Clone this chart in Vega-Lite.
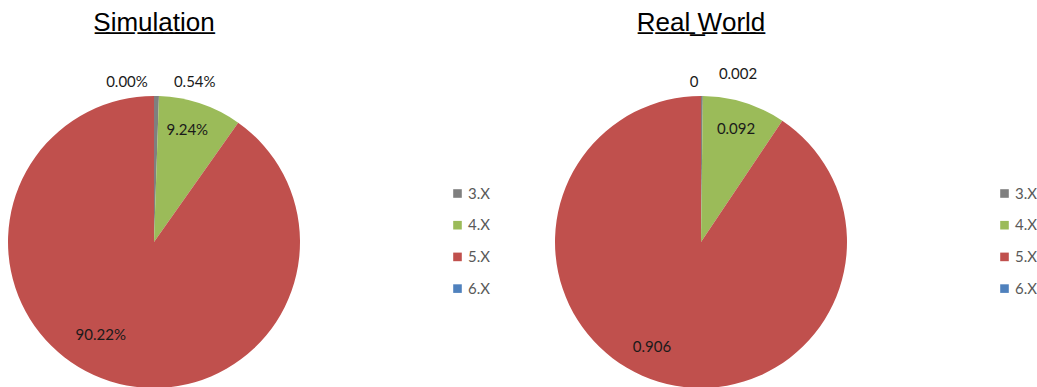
{
  "$schema": "https://vega.github.io/schema/vega-lite/v6.json",
  "padding": {"left": 8, "top": 10, "right": 0, "bottom": 0},
  "background": "white",
  "config": {
    "view": {"stroke": null},
    "title": {"font": "Liberation Sans", "fontSize": 26, "fontWeight": "normal", "color": "#000000", "anchor": "middle"},
    "text": {"font": "Lato", "fontSize": 15, "color": "#1a1a1a", "align": "center", "baseline": "middle"},
    "legend": {"orient": "none", "legendX": 442, "legendY": 90, "padding": 0, "symbolType": "square", "symbolSize": 74, "symbolStrokeWidth": 0, "labelFont": "Lato", "labelFontSize": 15, "labelColor": "#595959", "labelOffset": 3, "rowPadding": 15.7, "title": null}
  },
  "datasets": {
    "sim": [
      {"version": "3.X", "v": 0.0054},
      {"version": "4.X", "v": 0.0924},
      {"version": "5.X", "v": 0.9022},
      {"version": "6.X", "v": 0.0}
    ],
    "real": [
      {"version": "3.X", "v": 0.002},
      {"version": "4.X", "v": 0.092},
      {"version": "5.X", "v": 0.906},
      {"version": "6.X", "v": 0.0}
    ]
  },
  "hconcat": [
    {
      "title": {"text": "S̲i̲m̲u̲l̲a̲t̲i̲o̲n̲", "offset": 39},
      "width": 292,
      "height": 292,
      "data": {"name": "sim"},
      "encoding": {
        "theta": {"field": "v", "type": "quantitative", "stack": true},
        "order": {"field": "version", "type": "ordinal"}
      },
      "layer": [
        {
          "mark": {"type": "arc"},
          "encoding": {
            "color": {"field": "version", "type": "nominal", "scale": {"domain": ["3.X", "4.X", "5.X", "6.X"], "range": ["#7f7f7f", "#9bbb59", "#c0504d", "#4f81bd"]}}
          }
        },
        {
          "mark": {"type": "text", "radius": 160, "dx": 38},
          "encoding": {"text": {"condition": {"test": "datum.version === '3.X'", "field": "v", "type": "quantitative", "format": ".2%"}, "value": ""}}
        },
        {
          "mark": {"type": "text", "radius": 160, "dx": -27},
          "encoding": {"text": {"condition": {"test": "datum.version === '6.X'", "field": "v", "type": "quantitative", "format": ".2%"}, "value": ""}}
        },
        {
          "mark": {"type": "text", "radius": 117, "dx": -4, "dy": -1},
          "encoding": {"text": {"condition": {"test": "datum.version === '4.X'", "field": "v", "type": "quantitative", "format": ".2%"}, "value": ""}}
        },
        {
          "mark": {"type": "text", "radius": 100, "dx": -23, "dy": -2},
          "encoding": {"text": {"condition": {"test": "datum.version === '5.X'", "field": "v", "type": "quantitative", "format": ".2%"}, "value": ""}}
        }
      ]
    },
    {
      "title": {"text": "R̲e̲a̲l̲ ̲W̲o̲r̲l̲d̲", "offset": 31},
      "width": 292,
      "height": 292,
      "data": {"name": "real"},
      "encoding": {
        "theta": {"field": "v", "type": "quantitative", "stack": true},
        "order": {"field": "version", "type": "ordinal"}
      },
      "layer": [
        {
          "mark": {"type": "arc"},
          "encoding": {
            "color": {"field": "version", "type": "nominal", "scale": {"domain": ["3.X", "4.X", "5.X", "6.X"], "range": ["#7f7f7f", "#9bbb59", "#c0504d", "#4f81bd"]}}
          }
        },
        {
          "mark": {"type": "text", "radius": 168, "dx": 36},
          "encoding": {"text": {"condition": {"test": "datum.version === '3.X'", "field": "v", "type": "quantitative"}, "value": ""}}
        },
        {
          "mark": {"type": "text", "radius": 160, "dx": -7},
          "encoding": {"text": {"condition": {"test": "datum.version === '6.X'", "field": "v", "type": "quantitative"}, "value": ""}}
        },
        {
          "mark": {"type": "text", "radius": 118},
          "encoding": {"text": {"condition": {"test": "datum.version === '4.X'", "field": "v", "type": "quantitative"}, "value": ""}}
        },
        {
          "mark": {"type": "text", "radius": 110, "dx": -17, "dy": 0},
          "encoding": {"text": {"condition": {"test": "datum.version === '5.X'", "field": "v", "type": "quantitative"}, "value": ""}}
        }
      ]
    }
  ],
  "spacing": 65,
  "resolve": {"legend": {"color": "independent"}}
}
